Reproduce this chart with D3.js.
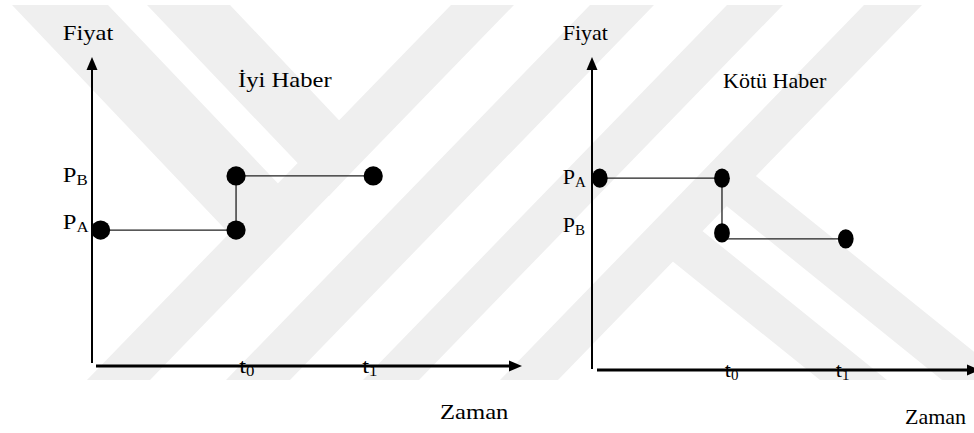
<!DOCTYPE html>
<html>
<head>
<meta charset="utf-8">
<script src="https://cdn.jsdelivr.net/npm/d3@7"></script>
<style>
  html, body { margin: 0; padding: 0; background: #fff; }
  svg { display: block; }
</style>
</head>
<body>
<svg width="974" height="433"></svg>
<script>
// time positions (axis origin = 0)
const times = [0.2, 3.35, 3.35, 6.54];
const tickTimes = [3.6, 6.46];
const tickSubs = ["0", "1"];

// İyi Haber: price rises from P_A to P_B at t0
const goodPrice = [4.4, 4.4, 6.15, 6.15];
// Kötü Haber: price falls from P_A to P_B at t0
const badPrice = [6.13, 6.13, 4.38, 4.19];

// price level labels (lower, upper)
const levelValues = [4.42, 5.95];
const goodLevelSubs = ["A", "B"];
const badLevelSubs = ["B", "A"];

const titles = ["İyi Haber", "Kötü Haber"];

// faint background watermark stripes
const watermark = [
  [[451,5],[514,5],[150,380],[87,380]],
  [[590,5],[654,5],[290,380],[226,380]],
  [[727,5],[783,5],[419,380],[363,380]],
  [[864,5],[922,5],[558,380],[500,380]],
  [[12,5],[108,5],[309,216],[260,266]],
  [[147,5],[230,5],[370,153],[329,196]],
  [[690,221],[887,380],[820,380],[661,252]],
  [[741,164],[1009,380],[942,380],[713,195]]
];

const svg = d3.select("svg");

svg.append("path")
   .attr("d", watermark.map(p => "M" + p.join("L") + "Z").join(""))
   .attr("fill", "#efefef");

const panels = [
  {title: titles[0], price: goodPrice, subs: goodLevelSubs, x0: 92, x1: 522, y0: 366, yAxisBottom: 363, xAxisStart: 96,
   sx: 1.12, rx: 9.6, ry: 9.6, tickDy: 6.5, titleX: 238, titleY: 87.3, zamanX: 440, zamanY: 419.3},
  {title: titles[1], price: badPrice, subs: badLevelSubs, x0: 592, x1: 980, y0: 370, yAxisBottom: 369, xAxisStart: 597,
   sx: 1.0, rx: 7.9, ry: 9.7, tickDy: 7, titleX: 723, titleY: 88.3, zamanX: 905, zamanY: 424}
];

panels.forEach(p => {
  const x = d3.scaleLinear().domain([0, 10]).range([p.x0, p.x1]);
  const y = d3.scaleLinear().domain([0, 10]).range([p.y0, 57]);
  const g = svg.append("g");

  // helper for text, stretched horizontally on the left like the source
  const label = (tx, ty, main, sub, anchor) => {
    const t = g.append("text")
      .attr("transform", `translate(${tx},${ty}) scale(${p.sx},1)`)
      .style("font-family", "Liberation Serif")
      .style("font-size", "22px")
      .attr("fill", "#000")
      .attr("text-anchor", anchor || "start");
    t.append("tspan").text(main);
    if (sub) {
      t.append("tspan").style("font-size", "15px").attr("dy", 3).text(sub);
    }
    return t;
  };

  // y axis with arrow
  const ax = x(0), top = y(10);
  g.append("line")
   .attr("x1", ax).attr("x2", ax)
   .attr("y1", p.yAxisBottom).attr("y2", top + 10)
   .attr("stroke", "#000").attr("stroke-width", 2);
  g.append("path")
   .attr("d", `M${ax},${top}L${ax - 5.5},${top + 13}L${ax + 5.5},${top + 13}Z`)
   .attr("fill", "#000");

  // x axis with arrow
  const ay = y(0), right = x(10);
  g.append("line")
   .attr("x1", p.xAxisStart).attr("x2", right - 10)
   .attr("y1", ay).attr("y2", ay)
   .attr("stroke", "#000").attr("stroke-width", 3);
  g.append("path")
   .attr("d", `M${right},${ay}L${right - 13},${ay - 5.5}L${right - 13},${ay + 5.5}Z`)
   .attr("fill", "#000");

  // price path (steps)
  const pts = times.map((t, i) => [t, p.price[i]]);
  g.append("path")
   .datum(pts)
   .attr("d", d3.line().x(d => x(d[0])).y(d => y(d[1])).curve(d3.curveStepBefore))
   .attr("fill", "none")
   .attr("stroke", "#222")
   .attr("stroke-width", 1.3);

  g.selectAll(".dot")
   .data(pts)
   .join("ellipse")
   .attr("class", "dot")
   .attr("cx", d => x(d[0]))
   .attr("cy", d => y(d[1]))
   .attr("rx", p.rx)
   .attr("ry", p.ry)
   .attr("fill", "#000");

  // texts
  label(ax - 29.3, 40, "Fiyat");
  label(p.titleX, p.titleY, p.title);
  levelValues.forEach((v, i) => label(ax - 29.3, y(v), "P", p.subs[i]));
  tickTimes.forEach((t, i) => label(x(t), ay + p.tickDy, "t", tickSubs[i], "middle"));
  label(p.zamanX, p.zamanY, "Zaman");
});
</script>
</body>
</html>
